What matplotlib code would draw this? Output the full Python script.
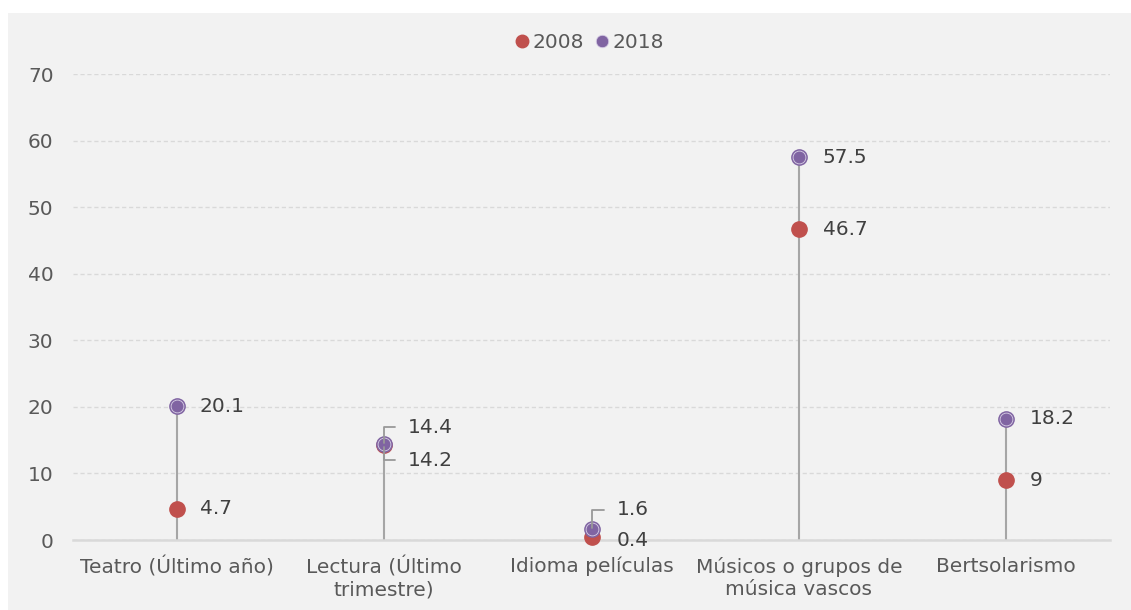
import matplotlib
matplotlib.use('Agg')
import matplotlib.pyplot as plt
from matplotlib.lines import Line2D
from matplotlib.patches import Rectangle

plt.rcParams['font.family'] = ['DejaVu Sans']

# datos
categorias = ['Teatro (Último año)', 'Lectura (Último\ntrimestre)', 'Idioma películas',
              'Músicos o grupos de\nmúsica vascos', 'Bertsolarismo']
valores_2008 = [4.7, 14.2, 0.4, 46.7, 9]
valores_2018 = [20.1, 14.4, 1.6, 57.5, 18.2]
etiquetas_2008 = ['4.7', '14.2', '0.4', '46.7', '9']
etiquetas_2018 = ['20.1', '14.4', '1.6', '57.5', '18.2']
y_ticks = [0, 10, 20, 30, 40, 50, 60, 70]

ROJO = '#c0504d'
MORADO = '#8064a2'
GRIS_TEXTO = '#595959'
TEXTO = '#404040'
FS = 14.5

fig = plt.figure(figsize=(11.31, 6.10), dpi=100)
fig.patch.set_facecolor('white')
fondo = Rectangle((8 / 1131, 0), 1, 1 - 13 / 610, transform=fig.transFigure,
                  facecolor='#f2f2f2', edgecolor='none', zorder=-10)
fig.add_artist(fondo)

ax = fig.add_axes([73 / 1131, 70 / 610, 1037 / 1131, 466 / 610])
ax.set_facecolor('none')
ax.set_zorder(1)

x = list(range(len(categorias)))

# tallos
for xi, a, b in zip(x, valores_2008, valores_2018):
    ax.plot([xi, xi], [0, max(a, b)], color='#a6a6a6', lw=1.5, zorder=2, solid_capstyle='butt')

ax.plot(x, valores_2008, 'o', color=ROJO, ms=11, mec=ROJO, zorder=3, clip_on=False)
ax.plot(x, valores_2018, 'o', color=MORADO, ms=11, mec=MORADO, zorder=4, clip_on=False)
ax.plot(x, valores_2018, 'o', color=MORADO, ms=9.2, mec='#d8cfe6', mew=0.6, zorder=5, clip_on=False)

# etiquetas de datos
off_2018 = [(16.5, 0), (17, 12), (18, 14), (17, 0), (17, 0)]
off_2008 = [(16.5, 0), (17, -10.5), (18, -2), (17, 0), (17, 0)]
lider_2018 = [False, True, True, False, False]
lider_2008 = [False, True, False, False, False]

for i in x:
    for vals, labs, offs, lid in ((valores_2018, etiquetas_2018, off_2018, lider_2018),
                                 (valores_2008, etiquetas_2008, off_2008, lider_2008)):
        kw = {}
        if lid[i]:
            kw['arrowprops'] = dict(arrowstyle='-', color='#999999', lw=1.3, relpos=(0, 0.5),
                                    shrinkA=7, shrinkB=1,
                                    connectionstyle='angle,angleA=0,angleB=90,rad=0')
        ax.annotate(labs[i], xy=(i, vals[i]), xytext=offs[i], textcoords='offset points',
                    ha='left', va='center', fontsize=FS, color=TEXTO, zorder=6, **kw)

ax.set_xlim(-0.5, 4.5)
ax.set_ylim(0, 70)
ax.set_yticks(y_ticks)
ax.set_xticks(x)
ax.set_xticklabels(categorias, fontsize=FS, color=GRIS_TEXTO, linespacing=1.22)
ax.tick_params(axis='y', length=0, labelsize=FS, labelcolor=GRIS_TEXTO, pad=14)
ax.tick_params(axis='x', length=0, pad=12)

ax.grid(axis='y', color='#d9d9d9', linestyle=(0, (3, 2)), lw=1, zorder=1)
for s in ['top', 'right', 'left']:
    ax.spines[s].set_visible(False)
ax.spines['bottom'].set_color('#d9d9d9')
ax.spines['bottom'].set_linewidth(1.8)

handles = [Line2D([], [], marker='o', ls='none', color=ROJO, ms=9),
           Line2D([], [], marker='o', ls='none', color=MORADO, ms=9, mec='#d8cfe6', mew=0.6)]
fig.legend(handles, ['2008', '2018'], loc='center', ncol=2, frameon=False,
           bbox_to_anchor=(588 / 1131, 1 - 43 / 610), fontsize=FS,
           handletextpad=0.0, columnspacing=0.4, handlelength=1.0, labelcolor=GRIS_TEXTO)

plt.savefig('out.png', dpi=100)
